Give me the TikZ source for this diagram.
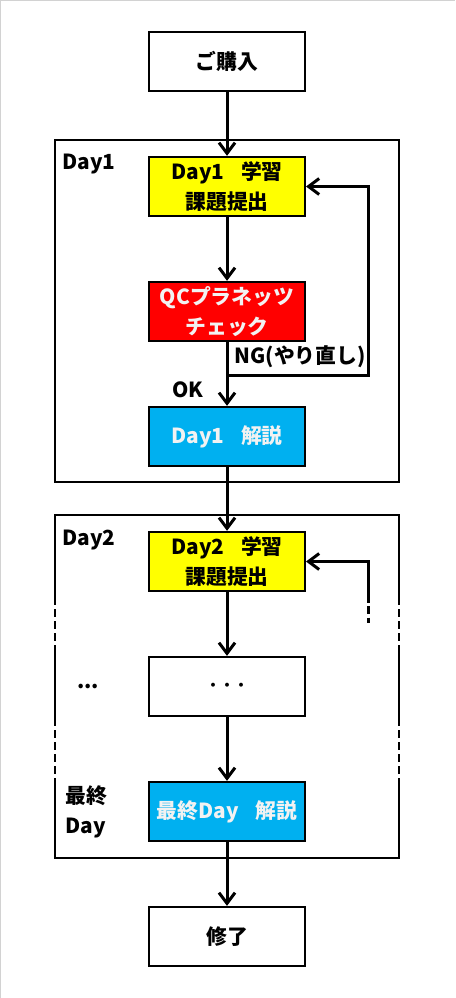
\documentclass[tikz,border=0pt]{standalone}
\usepackage{fontspec}
\setmainfont{Noto Sans CJK JP}
\usepackage{tikz}
\usetikzlibrary{arrows.meta,positioning}
\definecolor{study}{HTML}{FFFF00}
\definecolor{check}{HTML}{FF0000}
\definecolor{explain}{HTML}{00B0F0}
\definecolor{paper}{HTML}{F2F2F2}

\tikzset{
  flowbox/.style={draw=black, line width=1.5pt, minimum width=117pt, minimum height=44.5pt,
                  align=center, inner sep=2pt},
  frame/.style={draw=black, line width=1.5pt},
  gapline/.style={dash pattern=on 6pt off 3pt},
  wire/.style={line width=2.25pt, line join=miter},
  arr/.style={wire, -{Straight Barb[length=8pt, width=12pt]}},
  tag/.style={inner sep=1pt}
}

\begin{document}
\begin{tikzpicture}[x=0.75pt, y=-0.75pt, font=\bfseries\fontsize{15.6}{22.5}\selectfont]
  \useasboundingbox (0,0) rectangle (455,998);
  \draw[gray!35, line width=1.2pt] (0.6,998) -- (0.6,0.6) -- (455,0.6);

  % frames
  \draw[frame] (55,140) rectangle (399,482);
  \draw[frame] (55,597) -- (55,515) -- (399,515) -- (399,597);
  \draw[frame] (55,780) -- (55,858) -- (399,858) -- (399,780);
  \foreach \side in {55,399} {
    \draw[frame] (\side,648) -- (\side,718);
    \draw[frame, gapline] (\side,597) -- (\side,648);
    \draw[frame, gapline] (\side,718) -- (\side,780);
  }

  % steps
  \node[flowbox] (buy) at (227,61.5) {ご購入};
  \node[flowbox, fill=study] (d1study) at (227,186.5) {Day1\hspace{.8em}学習\\課題提出};
  \node[flowbox, fill=check, text=paper] (qc) at (227,311.5) {QCプラネッツ\\チェック};
  \node[flowbox, fill=explain, text=paper] (d1exp) at (227,436.5) {Day1\hspace{.8em}解説};
  \node[flowbox, fill=study] (d2study) at (227,561.5) {Day2\hspace{.8em}学習\\課題提出};
  \node[flowbox] (dots) at (227,686.5) {\fontsize{10.5}{10.5}\selectfont ・・・};
  \node[flowbox, fill=explain, text=paper] (lastexp) at (227,811.5) {最終Day\hspace{.8em}解説};
  \node[flowbox] (fin) at (227,936.5) {修了};

  % labels
  \node[tag] (d1tag) at (89,164) {Day1};
  \node[tag] (d2tag) at (89,540) {Day2};
  \node[tag] (moretag) at (88,686) {...};
  \node[tag, align=center] (lasttag) at (86,812) {最終\\Day};
  \node[tag, anchor=west] (nglabel) at (233,357) {NG(やり直し)};
  \node[tag] (oklabel) at (188,390) {OK};

  % flow
  \draw[arr] (buy) -- (d1study);
  \draw[arr] (d1study) -- (qc);
  \draw[arr] (qc) -- (d1exp);
  \draw[arr] (d1exp) -- (d2study);
  \draw[arr] (d2study) -- (dots);
  \draw[arr] (dots) -- (lastexp);
  \draw[arr] (lastexp) -- (fin);

  % retry loops
  \coordinate (ngcorner) at (368,375);
  \draw[arr] (qc.south |- ngcorner) -- (ngcorner) |- (d1study.east);
  \coordinate (loopend) at (368,595);
  \draw[arr] (loopend) |- (d2study.east);
  \draw[wire, dash pattern=on 6pt off 2.5pt] (loopend) -- (368,623);
\end{tikzpicture}
\end{document}
